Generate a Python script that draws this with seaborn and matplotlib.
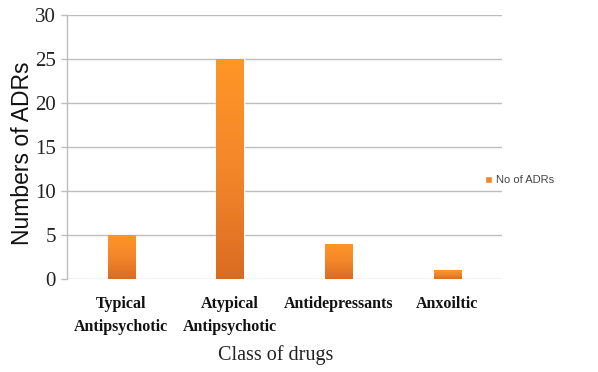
import matplotlib
matplotlib.use("Agg")
import matplotlib.pyplot as plt
from matplotlib.colors import LinearSegmentedColormap
import numpy as np
import seaborn as sns
import pandas as pd

categories = ["Typical\nAntipsychotic", "Atypical\nAntipsychotic", "Antidepressants", "Anxoiltic"]
adr_counts = [5, 25, 4, 1]
series_name = "No of ADRs"
y_ticks = [0, 5, 10, 15, 20, 25, 30]

df = pd.DataFrame({"Class": categories, "Count": adr_counts})

sns.set_theme(style="white")
fig = plt.figure(figsize=(5.98, 3.72), dpi=100)
ax = fig.add_axes([0.112, 0.25, 0.727, 0.71])

bar_color = "#F0862A"
sns.barplot(data=df, x="Class", y="Count", color=bar_color, width=0.25,
            ax=ax, label=series_name, saturation=1)

# vertical orange shading inside each bar (light top, darker base)
shade = LinearSegmentedColormap.from_list("bar_shade", ["#DA6C22", "#F4872A", "#FF9626"])
grad = np.linspace(0, 1, 256).reshape(-1, 1)
for patch in ax.patches:
    x0, y0 = patch.get_x(), patch.get_y()
    w, h = patch.get_width(), patch.get_height()
    im = ax.imshow(grad, cmap=shade, origin="lower", aspect="auto",
                   extent=(x0, x0 + w, y0, y0 + h), zorder=patch.get_zorder() + 0.1,
                   interpolation="bilinear")
    im.set_clip_path(patch)

ax.set_ylim(0, 30)
ax.set_yticks(y_ticks)
ax.set_xlim(-0.5, 3.5)
ax.yaxis.grid(True, color="#BDBDBD", linewidth=1.0)
ax.set_axisbelow(True)

for side in ["top", "right", "bottom"]:
    ax.spines[side].set_visible(False)
ax.spines["left"].set_color("#BDBDBD")
ax.spines["left"].set_linewidth(1.0)

ax.tick_params(axis="y", which="major", left=True, length=4, color="#BDBDBD",
               width=1.0, pad=4)
ax.tick_params(axis="x", bottom=False, pad=6)

for lbl in ax.get_yticklabels():
    lbl.set_fontfamily("Liberation Serif")
    lbl.set_fontsize(15)
    lbl.set_color("#222222")
for lbl in ax.get_xticklabels():
    lbl.set_fontfamily("Liberation Serif")
    lbl.set_fontweight("bold")
    lbl.set_fontsize(11.5)
    lbl.set_color("#111111")
    lbl.set_linespacing(1.65)

ax.set_ylabel("Numbers of ADRs", fontfamily="Liberation Sans", fontsize=16.5,
              color="#111111")
ax.yaxis.set_label_coords(-0.075, 0.475)
ax.set_xlabel("Class of drugs", fontfamily="Liberation Serif", fontsize=14.5,
              color="#222222")
ax.xaxis.set_label_coords(0.48, -0.25)

handles, labels = ax.get_legend_handles_labels()
leg = fig.legend(handles, labels, loc="center left", bbox_to_anchor=(0.795, 0.515),
                 frameon=False, handlelength=0.6, handleheight=0.6,
                 handletextpad=0.35, prop={"family": "Liberation Sans", "size": 8})
for t in leg.get_texts():
    t.set_color("#444444")
if ax.get_legend() is not None:
    ax.get_legend().remove()

fig.savefig("out.png", dpi=100)
